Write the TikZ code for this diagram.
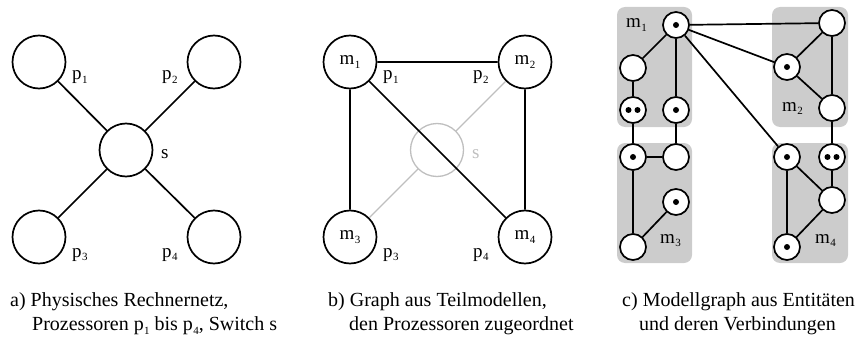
\documentclass[tikz,border=0pt]{standalone}
\usepackage{fontspec}
\setmainfont{Liberation Serif}
\newcommand\lbl[2]{#1\kern0.3pt\raisebox{-0.45ex}{\fontsize{11}{11}\selectfont #2}}
\begin{document}
\begin{tikzpicture}[x=1pt,y=-1pt,
  big/.style={circle,draw,line width=1.7pt,minimum size=53pt,inner sep=0pt,fill=white,font=\fontsize{19}{22}\selectfont},
  sm/.style={circle,draw,line width=1.7pt,minimum size=26pt,inner sep=0pt,fill=white},
  ghost/.style={circle,draw=black!25,line width=1.3pt,minimum size=53pt,inner sep=0pt},
  edge/.style={line width=1.7pt},
  gedge/.style={line width=1.3pt,draw=black!25},
  lab/.style={anchor=base west,inner sep=0pt,font=\fontsize{19}{22}\selectfont},
  box/.style={fill=black!20,rounded corners=8pt},
  captext/.style={anchor=base west,inner sep=0pt,font=\fontsize{20}{24}\selectfont}]
\useasboundingbox (0,0) rectangle (861,342);
% ---------- a ----------
\node[big] (a1) at (39,62) {};
\node[big] (a2) at (214,62) {};
\node[big] (a3) at (39,237) {};
\node[big] (a4) at (214,237) {};
\node[big] (as) at (126,150) {};
\draw[edge] (a1) -- (as) (a2) -- (as) (a3) -- (as) (a4) -- (as);
\node[lab] (la1) at (72,80) {\lbl{p}{1}};
\node[lab] (la2) at (162,80) {\lbl{p}{2}};
\node[lab] (la3) at (72,257) {\lbl{p}{3}};
\node[lab] (la4) at (162,257) {\lbl{p}{4}};
\node[lab] (las) at (161,158) {s};
% ---------- b ----------
\node[ghost] (bs) at (437,150) {};
\node[big] (b1) at (350,62) {\lbl{m}{1}};
\node[big] (b2) at (525,62) {\lbl{m}{2}};
\node[big] (b3) at (350,237) {\lbl{m}{3}};
\node[big] (b4) at (525,237) {\lbl{m}{4}};
\draw[gedge] (b2) -- (bs) (bs) -- (b3);
\draw[edge] (b1) -- (b2) (b1) -- (b3) (b2) -- (b4) (b1) -- (b4);
\node[lab] (lb1) at (383,80) {\lbl{p}{1}};
\node[lab] (lb2) at (473,80) {\lbl{p}{2}};
\node[lab] (lb3) at (383,257) {\lbl{p}{3}};
\node[lab] (lb4) at (473,257) {\lbl{p}{4}};
\node[lab,text=black!25] (lbs) at (472,158) {s};
% ---------- c ----------
\fill[box] (617,7) rectangle (692,127);
\fill[box] (617,143) rectangle (692,263);
\fill[box] (772,7) rectangle (848,127);
\fill[box] (772,143) rectangle (848,263);
\node[sm] (A1) at (676,25) {};
\node[sm] (A2) at (633,68) {};
\node[sm] (A3) at (633,110) {};
\node[sm] (A4) at (676,110) {};
\node[sm] (B1) at (633,157) {};
\node[sm] (B2) at (676,157) {};
\node[sm] (B3) at (676,202) {};
\node[sm] (B4) at (633,247) {};
\node[sm] (C1) at (832,23) {};
\node[sm] (C2) at (787,67) {};
\node[sm] (C3) at (832,108) {};
\node[sm] (D1) at (787,157) {};
\node[sm] (D2) at (832,157) {};
\node[sm] (D3) at (832,200) {};
\node[sm] (D4) at (787,247) {};
\draw[edge] (A1) -- (A2) (A1) -- (A4) (A2) -- (A3) (A3) -- (B1) (A4) -- (B2)
  (B1) -- (B2) (B1) -- (B4) (B4) -- (B3)
  (A1) -- (C1) (A1) -- (C2) (A1) -- (D1)
  (C1) -- (C2) (C1) -- (C3) (C2) -- (C3) (C3) -- (D2)
  (D1) -- (D3) (D1) -- (D4) (D2) -- (D3) (D3) -- (D4);
\foreach \n in {A1,A4,B1,B3,C2,D1,D4} \fill (\n.center) circle (3pt);
\foreach \n in {A3,D2} {\fill ([xshift=-4.5pt]\n.center) circle (3pt); \fill ([xshift=4.5pt]\n.center) circle (3pt);}
\node[lab] (lc1) at (626,28) {\lbl{m}{1}};
\node[lab] (lc2) at (782,111) {\lbl{m}{2}};
\node[lab] (lc3) at (660,243) {\lbl{m}{3}};
\node[lab] (lc4) at (815,243) {\lbl{m}{4}};
% ---------- captions ----------
\node[captext] (capa1) at (10,306) {a) Physisches Rechnernetz,};
\node[captext] (capa2) at (32,330) {Prozessoren \lbl{p}{1} bis \lbl{p}{4}, Switch s};
\node[captext] (capb1) at (328,306) {b) Graph aus Teilmodellen,};
\node[captext] (capb2) at (349,330) {den Prozessoren zugeordnet};
\node[captext] (capc1) at (622,306) {c) Modellgraph aus Entitäten};
\node[captext] (capc2) at (639,330) {und deren Verbindungen};
\end{tikzpicture}
\end{document}
